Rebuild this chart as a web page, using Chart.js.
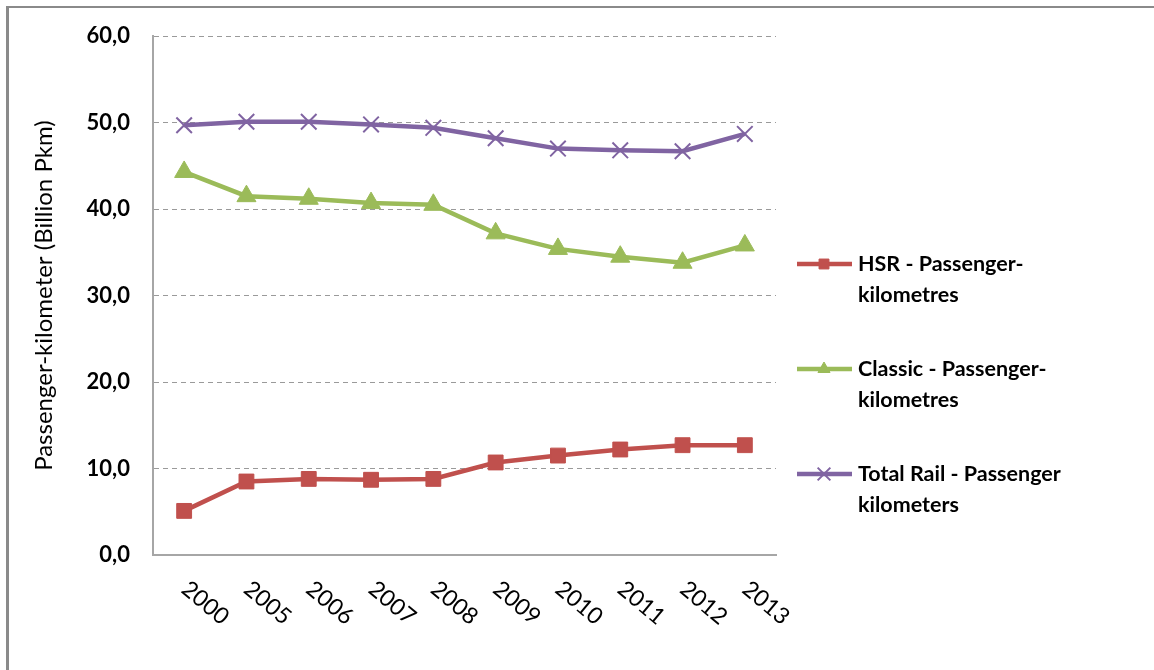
<!DOCTYPE html>
<html>
<head>
<meta charset="utf-8">
<script src="https://cdn.jsdelivr.net/npm/chart.js@4.4.0/dist/chart.umd.min.js"></script>
<style>
  html, body { margin: 0; padding: 0; background: #fff; }
  #wrap { position: relative; width: 1154px; height: 670px; overflow: hidden; }
  #frame { position: absolute; left: 6px; top: 6px; width: 1160px; height: 700px;
           border-left: 3px solid #8a8a8a; border-top: 2px solid #8a8a8a; box-sizing: border-box; }
  canvas { position: absolute; left: 0; top: 0; }
</style>
</head>
<body>
<div id="wrap">
  <div id="frame"></div>
  <canvas id="chartCanvas" width="1154" height="670"></canvas>
</div>
<script>
// data (billion passenger-km)
var years = ['2000', '2005', '2006', '2007', '2008', '2009', '2010', '2011', '2012', '2013']
var hsr = [5.1, 8.5, 8.8, 8.7, 8.8, 10.7, 11.5, 12.2, 12.7, 12.7]
var classic = [44.3, 41.5, 41.2, 40.7, 40.5, 37.2, 35.4, 34.5, 33.8, 35.8]
var total = [49.7, 50.1, 50.1, 49.8, 49.4, 48.2, 47.0, 46.8, 46.7, 48.7]

var seriesNames = [
    ['HSR - Passenger-', 'kilometres'],
    ['Classic - Passenger-', 'kilometres'],
    ['Total Rail - Passenger', 'kilometers']
]
var yTicks = [0, 10, 20, 30, 40, 50, 60]

var fontFam = 'Lato, "Open Sans", sans-serif'

// rotated x labels, reading downwards to the right
var xLabelsPlugin = {
    id: 'xLabels',
    afterDraw(chart) {
        var ctx = chart.ctx
        var sx = chart.scales.x
        ctx.save()
        ctx.fillStyle = '#000'
        ctx.font = '23px ' + fontFam
        ctx.textAlign = 'left'
        ctx.textBaseline = 'top'
        years.forEach((y, i) => {
            var px = sx.getPixelForValue(i)
            ctx.save()
            ctx.translate(px + 8, 577)
            ctx.rotate(40 * Math.PI / 180)
            ctx.fillText(y, 0, 0)
            ctx.restore()
        })
        ctx.restore()
    }
}

// legend on the right with two-line labels
var legendPlugin = {
    id: 'sideLegend',
    afterDraw(chart) {
        var ctx = chart.ctx
        var rows = [264, 369, 474]
        ctx.save()
        chart.data.datasets.forEach((ds, i) => {
            var y = rows[i]
            ctx.strokeStyle = ds.borderColor
            ctx.fillStyle = ds.borderColor
            ctx.lineWidth = 4.5
            ctx.beginPath()
            ctx.moveTo(797, y)
            ctx.lineTo(852, y)
            ctx.stroke()
            ctx.lineWidth = ds.pointBorderWidth
            Chart.helpers.drawPoint(ctx, {
                pointStyle: ds.pointStyle,
                radius: ds.legendRadius,
                borderWidth: ds.pointBorderWidth,
                rotation: 0
            }, 824, y)
            ctx.fillStyle = '#000'
            ctx.font = 'bold 21.5px ' + fontFam
            ctx.textAlign = 'left'
            ctx.textBaseline = 'middle'
            seriesNames[i].forEach((t, j) => ctx.fillText(t, 858, y + j * 31))
        })
        ctx.restore()
    }
}

var canvasChart = document.getElementById('chartCanvas')
var myChart = new Chart(canvasChart, {
    type: 'line',
    data: {
        labels: years,
        datasets: [
            {
                label: seriesNames[0].join(' '),
                data: hsr,
                borderColor: '#C0504D',
                backgroundColor: '#C0504D',
                pointBorderColor: '#C0504D',
                pointStyle: 'rect',
                pointRadius: 10.5,
                legendRadius: 7,
                pointBorderWidth: 1,
                borderWidth: 4.5,
                tension: 0
            },
            {
                label: seriesNames[1].join(' '),
                data: classic,
                borderColor: '#9BBB59',
                backgroundColor: '#9BBB59',
                pointBorderColor: '#9BBB59',
                pointStyle: 'triangle',
                pointRadius: 11,
                legendRadius: 7,
                pointBorderWidth: 1,
                borderWidth: 4.5,
                tension: 0
            },
            {
                label: seriesNames[2].join(' '),
                data: total,
                borderColor: '#8064A2',
                backgroundColor: '#8064A2',
                pointBorderColor: '#8064A2',
                pointStyle: 'crossRot',
                pointRadius: 11,
                legendRadius: 9,
                pointBorderWidth: 2,
                borderWidth: 4.5,
                tension: 0
            }
        ]
    },
    options: {
        responsive: false,
        animation: false,
        layout: { padding: { top: 33, right: 378, bottom: 0, left: 0 } },
        plugins: {
            legend: { display: false },
            tooltip: { enabled: false }
        },
        scales: {
            x: {
                offset: true,
                grid: { display: false },
                border: { display: true, color: '#a6a6a6', width: 2 },
                ticks: { display: false },
                afterFit(scale) { scale.height = 115 }
            },
            y: {
                min: 0,
                max: 60,
                afterBuildTicks(scale) { scale.ticks = yTicks.map(v => ({ value: v })) },
                grid: {
                    color: (c) => c.tick && c.tick.value === 0 ? 'rgba(0,0,0,0)' : '#9a9a9a',
                    lineWidth: 1,
                    drawTicks: false
                },
                border: { display: true, color: '#a6a6a6', width: 2, dash: [5, 4] },
                ticks: {
                    padding: 23,
                    color: '#000',
                    font: { family: fontFam, size: 22, weight: 'bold' },
                    callback: (v) => v.toFixed(1).replace('.', ',')
                },
                title: {
                    display: true,
                    text: 'Passenger-kilometer (Billion Pkm)',
                    color: '#000',
                    font: { family: fontFam, size: 24 },
                    padding: { top: 30, bottom: 0 }
                },
                afterFit(scale) { scale.width = 153 }
            }
        }
    },
    plugins: [xLabelsPlugin, legendPlugin]
})
</script>
</body>
</html>
